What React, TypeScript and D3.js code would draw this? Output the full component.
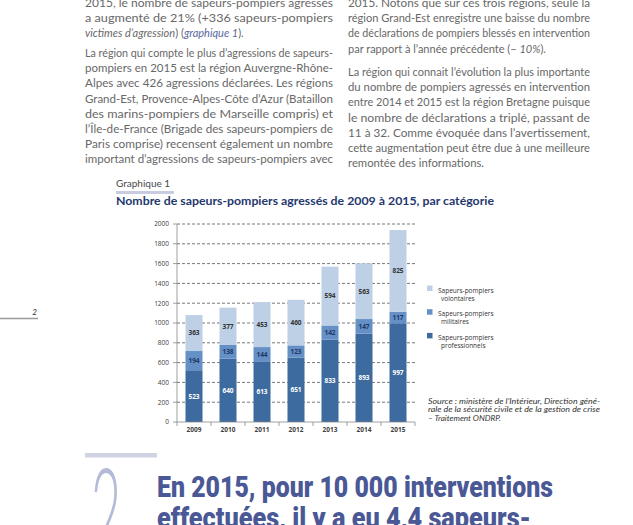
import React from "react";
import * as d3 from "d3";

const years = ["2009", "2010", "2011", "2012", "2013", "2014", "2015"];
const professionnels = [523, 640, 613, 651, 833, 893, 997];
const militaires = [194, 138, 144, 123, 142, 147, 117];
const volontaires = [363, 377, 453, 460, 594, 563, 825];
const yTicks = [0, 200, 400, 600, 800, 1000, 1200, 1400, 1600, 1800, 2000];
const seriesNames = ["Sapeurs-pompiers professionnels", "Sapeurs-pompiers militaires", "Sapeurs-pompiers volontaires"];
const legendLines = [
  ["Sapeurs-pompiers", "volontaires"],
  ["Sapeurs-pompiers", "militaires"],
  ["Sapeurs-pompiers", "professionnels"],
];

const leftPara1 = [
  "2015, le nombre de sapeurs-pompiers agressés",
  "a augmenté de 21% (+336 sapeurs-pompiers",
  "*victimes d’agression*) (_graphique 1_).",
];
const leftPara2 = [
  "La région qui compte le plus d’agressions de sapeurs-",
  "pompiers en 2015 est la région Auvergne-Rhône-",
  "Alpes avec 426 agressions déclarées. Les régions",
  "Grand-Est, Provence-Alpes-Côte d’Azur (Bataillon",
  "des marins-pompiers de Marseille compris) et",
  "l’Île-de-France (Brigade des sapeurs-pompiers de",
  "Paris comprise) recensent également un nombre",
  "important d’agressions de sapeurs-pompiers avec",
];
const rightPara1 = [
  "2015. Notons que sur ces trois régions, seule la",
  "région Grand-Est enregistre une baisse du nombre",
  "de déclarations de pompiers blessés en intervention",
  "par rapport à l’année précédente (– *10%*).",
];
const rightPara2 = [
  "La région qui connait l’évolution la plus importante",
  "du nombre de pompiers agressés en intervention",
  "entre 2014 et 2015 est la région Bretagne puisque",
  "le nombre de déclarations a triplé, passant de",
  "11 à 32. Comme évoquée dans l’avertissement,",
  "cette augmentation peut être due à une meilleure",
  "remontée des informations.",
];
const sourceLines = [
  "Source : ministère de l’Intérieur, Direction géné-",
  "rale de la sécurité civile et de la gestion de crise",
  "– Traitement ONDRP.",
];
const headingLines = ["En 2015, pour 10 000 interventions", "effectuées, il y a eu 4,4 sapeurs-"];

const W = 633;
const H = 525;
const COLORS = ["#3d6b9f", "#6490c6", "#bdd0e6"];
const LABEL_COLORS = ["#ffffff", "#1f3866", "#333333"];
const TEXT_FONT = "Lato, 'DejaVu Sans', sans-serif";
const CHART_FONT = "'Open Sans', 'Liberation Sans', sans-serif";

function Segments({ line }: { line: string }) {
  const parts = line.split(/(\*[^*]+\*|_[^_]+_)/).filter((p) => p.length);
  return (
    <>
      {parts.map((p, i) => {
        if (p.startsWith("*")) return <tspan key={i} fontStyle="italic">{p.slice(1, -1)}</tspan>;
        if (p.startsWith("_")) return <tspan key={i} fontStyle="italic" fill="#5a6aa0">{p.slice(1, -1)}</tspan>;
        return <tspan key={i}>{p}</tspan>;
      })}
    </>
  );
}

function Paragraph({ lines, x, y0, step, width, lastWidth }: { lines: string[]; x: number; y0: number; step: number; width: number; lastWidth: number | null }) {
  return (
    <g fontFamily={TEXT_FONT} fontSize={11} fill="#686868">
      {lines.map((l, i) => {
        const isLast = i === lines.length - 1;
        const tl = isLast ? lastWidth : width;
        return (
          <text key={i} x={x} y={y0 + i * step} {...(tl ? { textLength: tl, lengthAdjust: "spacingAndGlyphs" } : {})}>
            <Segments line={l} />
          </text>
        );
      })}
    </g>
  );
}

export default function App() {
  const x = d3.scaleBand<string>().domain(years).range([177, 415]).paddingInner(0.5).paddingOuter(0.25);
  const y = d3.scaleLinear().domain([0, 2000]).range([422, 224]);
  const stackData = years.map((yr, i) => ({ year: yr, p: professionnels[i], m: militaires[i], v: volontaires[i] }));
  const stack = d3.stack<any>().keys(["p", "m", "v"])(stackData);
  const step = x.step();
  const boundaries = d3.range(years.length + 1).map((i) => 177 + i * step);

  return (
    <svg width={W} height={H} style={{ position: "absolute", left: 0, top: 0, background: "#fff" }}>
      <rect width={W} height={H} fill="#fff" />
      <Paragraph lines={leftPara1} x={85} y0={7} step={15.2} width={248} lastWidth={null} />
      <Paragraph lines={leftPara2} x={85} y0={57} step={15.2} width={248} lastWidth={248} />
      <Paragraph lines={rightPara1} x={348} y0={7} step={15.2} width={242} lastWidth={null} />
      <Paragraph lines={rightPara2} x={348} y0={76} step={15.2} width={242} lastWidth={136} />

      {/* page number */}
      <line x1={0} x2={38} y1={318.5} y2={318.5} stroke="#9a9a9a" strokeWidth={1.5} />
      <text x={34.5} y={315} fontSize={8} fontStyle="italic" textAnchor="middle" fill="#333" fontFamily={TEXT_FONT}>2</text>

      {/* chart title */}
      <text x={116} y={187} fontSize={10} fill="#4a4a4a" fontFamily={TEXT_FONT}>Graphique 1</text>
      <rect x={116} y={191} width={58} height={3} fill="#c9cce0" />
      <text x={116} y={205} fontSize={10.5} fontWeight={700} fill="#25386e" fontFamily={TEXT_FONT} textLength={378} lengthAdjust="spacingAndGlyphs">
        Nombre de sapeurs-pompiers agressés de 2009 à 2015, par catégorie
      </text>

      {/* gridlines */}
      {yTicks.slice(1).map((t) => (
        <line key={t} x1={177} x2={415} y1={y(t)} y2={y(t)} stroke="#555" strokeWidth={0.8} strokeDasharray="3,2" />
      ))}
      {/* y axis */}
      <line x1={177} x2={177} y1={y(0)} y2={y(2000)} stroke="#888" strokeWidth={0.8} />
      {yTicks.map((t) => (
        <g key={t}>
          <line x1={173} x2={177} y1={y(t)} y2={y(t)} stroke="#888" strokeWidth={0.8} />
          <text x={169} y={y(t) + 2.3} fontSize={6.5} textAnchor="end" fill="#404040" fontFamily={CHART_FONT}>{t}</text>
        </g>
      ))}
      {/* bars */}
      {stack.map((s, si) => (
        <g key={si}>
          {s.map((d, i) => (
            <g key={i}>
              <rect x={x(years[i])} width={x.bandwidth()} y={y(d[1])} height={y(d[0]) - y(d[1])} fill={COLORS[si]} />
              <text x={(x(years[i]) as number) + x.bandwidth() / 2} y={(y(d[0]) + y(d[1])) / 2 + 2.4} fontSize={6.5} fontWeight={700} textAnchor="middle" fill={LABEL_COLORS[si]} fontFamily={CHART_FONT}>
                {d[1] - d[0]}
              </text>
            </g>
          ))}
        </g>
      ))}
      {/* x axis */}
      <line x1={177} x2={415} y1={y(0)} y2={y(0)} stroke="#888" strokeWidth={0.8} />
      {boundaries.map((b, i) => (
        <line key={i} x1={b} x2={b} y1={y(0)} y2={y(0) + 4} stroke="#888" strokeWidth={0.8} />
      ))}
      {years.map((yr) => (
        <text key={yr} x={(x(yr) as number) + x.bandwidth() / 2} y={432} fontSize={6.5} fontWeight={700} textAnchor="middle" fill="#404040" fontFamily={CHART_FONT}>{yr}</text>
      ))}

      {/* legend */}
      {[2, 1, 0].map((si, k) => (
        <g key={si}>
          <rect x={427} y={288 + k * 23.7 - 2.5} width={5.5} height={5.5} fill={COLORS[si]} />
          <text x={438} y={292.5 + k * 23.7} fontSize={6.5} fill="#333" fontFamily={CHART_FONT}>{legendLines[k][0]}</text>
          <text x={441} y={300.5 + k * 23.7} fontSize={6.5} fill="#333" fontFamily={CHART_FONT}>{legendLines[k][1]}</text>
          <title>{seriesNames[si]}</title>
        </g>
      ))}

      {/* source */}
      {sourceLines.map((l, i) => (
        <text key={i} x={428} y={404 + i * 8.4} fontSize={7} fontStyle="italic" fill="#333" fontFamily={TEXT_FONT} textLength={i < 2 ? 172 : 73} lengthAdjust="spacingAndGlyphs">{l}</text>
      ))}

      {/* section 2 heading */}
      <rect x={85} y={453} width={72} height={4.5} fill="#cfd2e3" />
      <text x={106} y={557} fontSize={125} fontWeight={300} fill="#b5bbd7" fontFamily={TEXT_FONT} textAnchor="middle" transform="translate(106,0) scale(0.42,1) translate(-106,0)">2</text>
      {headingLines.map((l, i) => (
        <text key={i} x={157} y={497 + i * 31} fontSize={30} fontWeight={900} fill="#4b5896" fontFamily="Roboto, 'DejaVu Sans', sans-serif" textLength={i === 0 ? 396 : 374} lengthAdjust="spacingAndGlyphs">{l}</text>
      ))}
    </svg>
  );
}
